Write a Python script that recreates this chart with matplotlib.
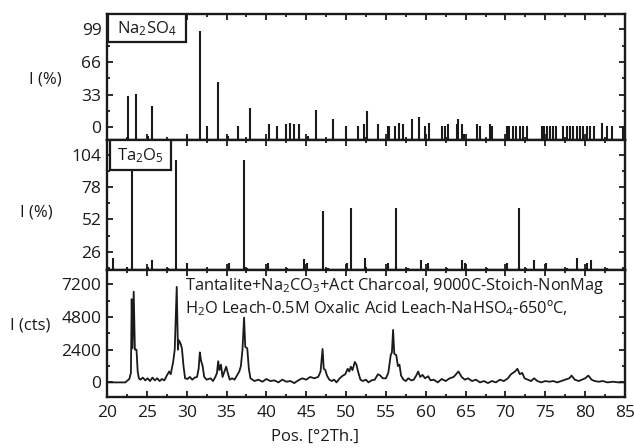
import numpy as np
import matplotlib
matplotlib.use("Agg")
import matplotlib.pyplot as plt
from matplotlib.patches import Rectangle
from matplotlib.ticker import MultipleLocator

plt.rcParams['font.family'] = ['Open Sans', 'DejaVu Sans']
plt.rcParams['mathtext.fontset'] = 'custom'
plt.rcParams['mathtext.rm'] = 'Open Sans'
plt.rcParams['mathtext.it'] = 'Open Sans:italic'

# reference pattern Na2SO4 (stick positions, relative intensity %)
na2so4_pos = [22.63, 23.68, 25.18, 25.65, 30.08, 31.71, 32.55, 33.93, 35.14, 36.43,
              37.9, 40.28, 41.29, 42.46, 42.96, 43.5, 44.09, 45.18, 46.22, 48.4,
              49.95, 51.49, 52.29, 52.58, 54.0, 55.26, 55.42, 56.14, 56.68, 57.18,
              58.23, 59.15, 59.9, 60.36, 62.0, 62.41, 62.82, 63.87, 64.08, 64.5,
              64.79, 66.39, 66.8, 68.06, 68.35, 70.15, 70.48, 70.9, 71.32, 71.82,
              72.15, 72.74, 74.54, 74.83, 75.17, 75.58, 76.0, 76.34, 77.25, 77.68,
              78.09, 78.51, 78.93, 79.35, 79.76, 80.18, 80.6, 81.1, 82.07, 82.7,
              83.32, 84.7]
na2so4_int = [32, 34, -9, 22, -9, 97, 1, 46, -9, 1,
              19, 3, 1, 3, 4.6, 3, 3, -9, 17, 8.7,
              1, 1, 3, 16, 3, 1, 1, 1, 4.6, 3,
              8.7, 10.7, 1, 4.6, 1, 1, 3, 3, 8, 3,
              -7, 3, 1, 3, 1, 1, 1, 1, 1, 1,
              1, 1, 1, 1, 1, 1, 1, 1, 1, 1,
              1, 1, 1, 1, 1, 1, 1, 1, 4, 1,
              1, 1]

# reference pattern Ta2O5
ta2o5_pos = [20.79, 22.47, 23.18, 25.18, 25.69, 27.7, 28.62, 30.08, 32.5, 35.26,
             37.19, 37.53, 40.16, 42.55, 44.72, 45.13, 47.14, 47.69, 50.07, 50.58,
             52.37, 55.3, 56.26, 57.73, 59.36, 60.24, 62.62, 64.5, 64.92, 67.64,
             70.15, 71.66, 72.57, 73.58, 75.04, 77.68, 79.02, 80.18, 80.69, 82.7]
ta2o5_int = [21, 14, 100, 14, 19, 13, 100, 17, 13, 17,
             100, 13, 17, 13, 20, 17, 59, 13, 17, 61,
             21, 17, 61, 13, 19, 17, 13, 19, 17, 13,
             17, 61, 13, 19, 17, 13, 21, 17, 19, 13]

# measured scan (2theta, counts)
scan_pos = [20.0, 22.3, 22.8, 23.0, 23.1, 23.2, 23.35, 23.5, 23.7, 23.85,
            24.0, 24.2, 24.5, 24.8, 25.1, 25.4, 25.7, 26.0, 26.3, 26.6,
            26.9, 27.2, 27.5, 27.8, 28.0, 28.3, 28.5, 28.75, 28.9, 29.0,
            29.2, 29.4, 29.6, 29.8, 30.1, 30.4, 30.7, 31.0, 31.3, 31.5,
            31.65, 31.8, 32.0, 32.2, 32.5, 33.0, 33.3, 33.6, 33.8, 33.95,
            34.1, 34.3, 34.5, 34.8, 34.95, 35.2, 35.4, 35.7, 36.0, 36.3,
            36.6, 36.8, 37.0, 37.2, 37.35, 37.6, 37.8, 38.0, 38.5, 39.0,
            39.5, 40.0, 40.5, 41.0, 41.5, 42.0, 42.5, 43.0, 43.5, 44.0,
            44.5, 45.0, 45.5, 46.0, 46.5, 46.8, 47.05, 47.2, 47.4, 47.6,
            47.9, 48.2, 48.5, 48.8, 49.2, 49.6, 49.9, 50.2, 50.4, 50.6,
            50.8, 51.1, 51.3, 51.5, 51.8, 52.1, 52.5, 52.8, 53.2, 53.6,
            54.0, 54.3, 54.6, 55.0, 55.3, 55.6, 55.75, 55.9, 56.05, 56.3,
            56.5, 56.7, 56.9, 57.2, 57.5, 57.8, 58.2, 58.5, 58.8, 59.05,
            59.3, 59.6, 59.9, 60.3, 60.6, 61.0, 61.5, 62.0, 62.5, 63.0,
            63.5, 64.1, 64.5, 64.9, 65.3, 65.8, 66.3, 66.8, 67.3, 67.8,
            68.3, 68.8, 69.3, 69.8, 70.3, 70.7, 71.2, 71.5, 71.8, 72.1,
            72.4, 72.8, 73.2, 73.6, 74.0, 74.5, 75.0, 75.5, 76.0, 76.5,
            77.0, 77.5, 78.0, 78.3, 78.7, 79.2, 79.6, 80.0, 80.4, 80.8,
            81.2, 81.7, 82.2, 82.8, 83.5, 84.2, 85.0]
scan_cts = [0, 0, 250, 700, 6100, 2500, 6650, 2400, 2400, 800,
            300, 200, 350, 150, 300, 100, 350, 150, 300, 100,
            250, 150, 500, 800, 600, 1500, 2400, 7000, 2400, 3100,
            2900, 2500, 1200, 300, 250, 400, 200, 350, 400, 1000,
            2200, 1600, 1200, 400, 200, 300, 100, 400, 700, 1550,
            900, 1300, 400, 900, 1150, 600, 200, 300, 200, 500,
            800, 1200, 2400, 4750, 2600, 2500, 1000, 300, 100, 200,
            50, 250, 100, 150, 0, 200, 50, 100, -50, 150,
            300, 200, 400, 300, 400, 800, 2450, 1000, 900, 500,
            200, 100, 200, 0, 300, 500, 600, 1000, 800, 1150,
            900, 1500, 1300, 800, 200, 100, 200, 0, 150, 200,
            600, 500, 300, 300, 700, 2000, 2200, 3850, 2100, 2000,
            1200, 1300, 500, 200, 100, 300, 150, 200, 500, 800,
            400, 550, 300, 450, 150, 200, 0, 250, 100, 300,
            400, 800, 400, 200, 300, 100, 200, 0, 100, -50,
            100, 0, 200, 100, 300, 600, 800, 1000, 600, 700,
            300, 200, 100, 300, 100, 0, 100, 50, 100, 0,
            100, 200, 300, 500, 200, 100, 200, 300, 500, 200,
            100, 50, 100, 0, 50, 0, 0]

x_ticks = [20, 25, 30, 35, 40, 45, 50, 55, 60, 65, 70, 75, 80, 85]

ink = '#1a1a1a'

fig = plt.figure(figsize=(6.34, 4.48), dpi=100)
L, R = 107 / 634, 625 / 634
ax1 = fig.add_axes([L, 1 - 140 / 448, R - L, 126 / 448])
ax2 = fig.add_axes([L, 1 - 270 / 448, R - L, 130 / 448])
ax3 = fig.add_axes([L, 1 - 397 / 448, R - L, 127 / 448])

ax1.set_ylim(-12.8, 114.4)
ax2.set_ylim(11.2, 116)
ax3.set_ylim(-1070, 8240)

ax1.vlines(na2so4_pos, -12.8, na2so4_int, color=ink, lw=1.5)
ax2.vlines(ta2o5_pos, 11.2, ta2o5_int, color=ink, lw=1.5)
ax3.plot(scan_pos, scan_cts, color=ink, lw=1.3)

for ax in (ax1, ax2, ax3):
    ax.set_xlim(20, 85)
    ax.xaxis.set_major_locator(MultipleLocator(5))
    ax.xaxis.set_minor_locator(MultipleLocator(2.5))
    ax.tick_params(which='both', direction='in', top=True, right=True,
                   width=1.3, labelsize=12.5, pad=4, colors=ink)
    ax.tick_params(which='major', length=4)
    ax.tick_params(which='minor', length=2.5)
    for s in ax.spines.values():
        s.set_linewidth(1.7)
        s.set_color(ink)
    if ax is not ax3:
        ax.set_xticklabels([])

ax1.set_yticks([0, 33, 66, 99])
ax1.yaxis.set_minor_locator(MultipleLocator(16.5))
ax2.set_yticks([26, 52, 78, 104])
ax2.yaxis.set_minor_locator(MultipleLocator(13))
ax3.set_yticks([0, 2400, 4800, 7200])
ax3.yaxis.set_minor_locator(MultipleLocator(1200))
ax3.set_xticks(x_ticks)
ax3.tick_params(axis='x', labelsize=12.5, pad=6)

# phase label boxes
ax1.add_patch(Rectangle((0.002, 0.778), 0.15, 0.222, transform=ax1.transAxes,
                        fc='white', ec=ink, lw=1.6, zorder=5))
ax1.text(0.077, 0.885, r'Na$_2$SO$_4$', transform=ax1.transAxes, ha='center',
         va='center', fontsize=12, color=ink, zorder=6)
ax2.add_patch(Rectangle((0.005, 0.77), 0.118, 0.23, transform=ax2.transAxes,
                        fc='white', ec=ink, lw=1.6, zorder=5))
ax2.text(0.064, 0.88, r'Ta$_2$O$_5$', transform=ax2.transAxes, ha='center',
         va='center', fontsize=12, color=ink, zorder=6)

ax3.text(0.151, 0.875, r'Tantalite+Na$_2$CO$_3$+Act Charcoal, 9000C-Stoich-NonMag',
         transform=ax3.transAxes, fontsize=11.8, va='center', color=ink)
ax3.text(0.151, 0.70, r'H$_2$O Leach-0.5M Oxalic Acid Leach-NaHSO$_4$-650ºC,',
         transform=ax3.transAxes, fontsize=11.8, va='center', color=ink)

fig.text(62 / 634, 1 - 79 / 448, 'I (%)', ha='right', va='center', fontsize=12, color=ink)
fig.text(53 / 634, 1 - 212 / 448, 'I (%)', ha='right', va='center', fontsize=12, color=ink)
fig.text(50 / 634, 1 - 326 / 448, 'I (cts)', ha='right', va='center', fontsize=12, color=ink)
fig.text(315 / 634, 1 - 437 / 448, 'Pos. [°2Th.]', ha='center', va='center',
         fontsize=12, color=ink)

fig.savefig('out.png', dpi=100)
